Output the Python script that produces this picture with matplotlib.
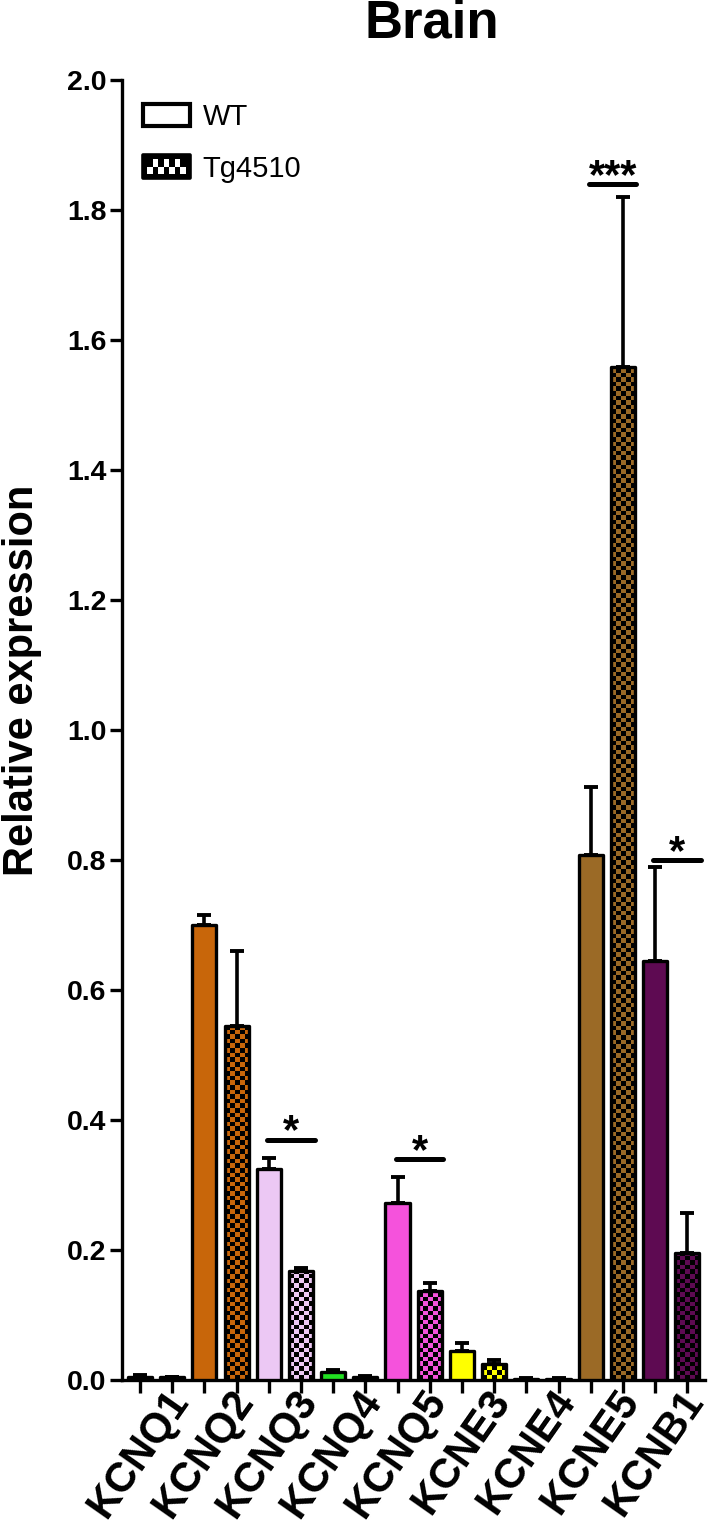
import numpy as np
import matplotlib
matplotlib.use("Agg")
import matplotlib.pyplot as plt
from matplotlib.patches import Rectangle
from matplotlib.legend_handler import HandlerBase
from matplotlib.colors import to_rgb

plt.rcParams['font.family'] = ['Liberation Sans', 'DejaVu Sans']

# ---------------- data ----------------
genes = ['KCNQ1', 'KCNQ2', 'KCNQ3', 'KCNQ4', 'KCNQ5', 'KCNE3', 'KCNE4', 'KCNE5', 'KCNB1']
wt_mean = [0.005, 0.700, 0.325, 0.012, 0.273, 0.045, 0.002, 0.807, 0.645]
wt_sem = [0.002, 0.016, 0.017, 0.004, 0.040, 0.012, 0.001, 0.105, 0.145]
tg_mean = [0.004, 0.545, 0.167, 0.005, 0.137, 0.025, 0.002, 1.558, 0.195]
tg_sem = [0.001, 0.115, 0.005, 0.001, 0.012, 0.006, 0.001, 0.262, 0.062]
gene_colors = ['#1c1c1c', '#c8660a', '#ecc8f4', '#22e022', '#f552dc',
               '#ffff00', '#1c1c1c', '#9b6a26', '#5e0a52']
sig_gene = ['KCNQ3', 'KCNQ5', 'KCNE5', 'KCNB1']
sig_label = ['*', '*', '***', '*']
sig_height = [0.37, 0.34, 1.84, 0.80]
yticks = [0.0, 0.2, 0.4, 0.6, 0.8, 1.0, 1.2, 1.4, 1.6, 1.8, 2.0]

# ---------------- figure ----------------
W, H = 709, 1529
fig = plt.figure(figsize=(W / 100, H / 100), dpi=100)
ax = fig.add_axes([122 / W, 1 - 1380 / H, (705 - 122) / W, (1380 - 80) / H])
ax.set_xlim(-0.56, 17.55)
ax.set_ylim(0, 2.0)

n = len(genes)
wt_x = np.arange(n) * 2
tg_x = np.arange(n) * 2 + 1
bw = 0.75
lw = 2.4

# error bars (upper only)
ax.errorbar(wt_x, wt_mean, yerr=[np.zeros(n), wt_sem], fmt='none', ecolor='black',
            elinewidth=2.6, capsize=5, capthick=2.8, zorder=2)
ax.errorbar(tg_x, tg_mean, yerr=[np.zeros(n), tg_sem], fmt='none', ecolor='black',
            elinewidth=2.6, capsize=5, capthick=2.8, zorder=2)

# WT bars
ax.bar(wt_x, wt_mean, width=bw, color=gene_colors, edgecolor='black',
       linewidth=lw, zorder=3, joinstyle='round')

# Tg bars: fill + checkerboard + outline
tg_fill = ax.bar(tg_x, tg_mean, width=bw, color=gene_colors, linewidth=0, zorder=3)
p0 = ax.transData.transform((0, 0))
p1 = ax.transData.transform((1, 1))
pxx, pxy = p1[0] - p0[0], p1[1] - p0[1]
cell = 4.6
for rect, col in zip(tg_fill.patches, gene_colors):
    x0, w, h = rect.get_x(), rect.get_width(), rect.get_height()
    nx = max(2, int(round(w * pxx / cell)))
    ny = max(1, int(round(h * pxy / cell)))
    arr = np.zeros((ny, nx, 3))
    c = np.array(to_rgb(col))
    for i in range(ny):
        for j in range(nx):
            if (i + j) % 2 == 1:
                arr[i, j] = c
    im = ax.imshow(arr, extent=(x0, x0 + w, 0, ny * cell / pxy), origin='lower',
                   aspect='auto', interpolation='nearest', zorder=3.5)
    im.set_clip_path(rect)
ax.bar(tg_x, tg_mean, width=bw, facecolor='none', edgecolor='black',
       linewidth=lw, zorder=4, joinstyle='round')
ax.set_xlim(-0.56, 17.55)
ax.set_ylim(0, 2.0)

# significance
for g, lab, hgt in zip(sig_gene, sig_label, sig_height):
    k = genes.index(g)
    xa, xb = wt_x[k] - 0.05, tg_x[k] + 0.42
    ax.plot([xa, xb], [hgt, hgt], color='black', lw=3.6, solid_capstyle='round', zorder=5)
    ax.text((xa + xb) / 2, hgt - 0.006, lab, ha='center', va='baseline',
            fontsize=30, fontweight='bold', zorder=5)

# axes styling
for s in ['top', 'right']:
    ax.spines[s].set_visible(False)
for s in ['left', 'bottom']:
    ax.spines[s].set_linewidth(2.4)
ax.set_yticks(yticks)
ax.set_yticklabels([f'{v:.1f}' for v in yticks], fontsize=20.5, fontweight='bold')
ax.set_xticks(np.concatenate([wt_x, tg_x]))
ax.set_xticklabels([])
ax.set_xticks(np.arange(n) * 2 + 0.75, minor=True)
ax.set_xticklabels(genes, minor=True, rotation=55, ha='right', va='top',
                   rotation_mode='anchor', fontsize=30, fontweight='bold')
ax.tick_params(axis='both', which='major', direction='out', width=2.4, length=9)
ax.tick_params(axis='x', which='minor', length=0, pad=2)
ax.tick_params(axis='y', pad=2)

fig.text(22 / W, 1 - 680 / H, 'Relative expression', rotation=90, ha='center',
         va='center', fontsize=30, fontweight='bold')
fig.text(432 / W, 1 - 38 / H, 'Brain', ha='center', va='baseline',
         fontsize=38, fontweight='bold')


# legend
class CheckerHandler(HandlerBase):
    def create_artists(self, legend, orig_handle, xdescent, ydescent, width,
                       height, fontsize, trans):
        x0, y0 = -xdescent, -ydescent
        arts = [Rectangle((x0, y0), width, height, facecolor='black',
                          edgecolor='black', lw=2.6, joinstyle='round', transform=trans)]
        inset = 0.18 * height
        nx, ny = 7, 2
        cw = (width - 2 * inset) / nx
        ch = (height - 2 * inset) / ny
        for i in range(ny):
            for j in range(nx):
                if (i + j) % 2 == 0:
                    arts.append(Rectangle((x0 + inset + j * cw, y0 + inset + i * ch), cw, ch,
                                          facecolor='white', lw=0, transform=trans))
        return arts


wt_handle = Rectangle((0, 0), 1, 1, facecolor='white', edgecolor='black', lw=3, joinstyle='round')
tg_handle = Rectangle((0, 0), 1, 1, facecolor='black')
ax.legend([wt_handle, tg_handle], ['WT', 'Tg4510'], handler_map={tg_handle: CheckerHandler()},
          loc='upper left', bbox_to_anchor=(0.036, 0.982), frameon=False, fontsize=21,
          handlelength=1.6, handleheight=0.8, handletextpad=0.45, labelspacing=0.8,
          borderpad=0, borderaxespad=0)

fig.savefig('out.png', dpi=100)
